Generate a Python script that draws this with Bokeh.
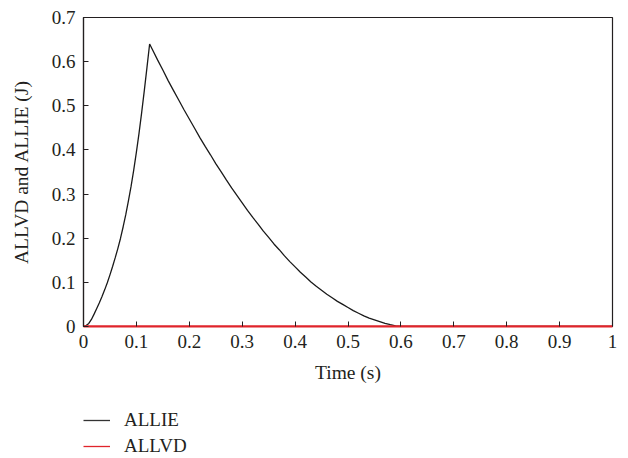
from bokeh.plotting import figure
from bokeh.layouts import column
from bokeh.models import Range1d, FixedTicker, Legend, LegendItem
from bokeh.embed import file_html
from bokeh.resources import INLINE

# ---- data ----
time_s = [0.0, 0.005, 0.01, 0.015, 0.02, 0.025, 0.03, 0.035, 0.04, 0.045, 0.05,
          0.055, 0.06, 0.065, 0.07, 0.075, 0.08, 0.085, 0.09, 0.095, 0.1, 0.105,
          0.11, 0.115, 0.12, 0.125,
          0.13, 0.14, 0.15, 0.16, 0.17, 0.18, 0.19, 0.2, 0.21, 0.22, 0.23, 0.24,
          0.25, 0.26, 0.27, 0.28, 0.29, 0.3, 0.31, 0.32, 0.33, 0.34, 0.35, 0.36,
          0.37, 0.38, 0.39, 0.4, 0.41, 0.42, 0.43, 0.44, 0.45, 0.46, 0.47, 0.48,
          0.49, 0.5, 0.51, 0.52, 0.53, 0.54, 0.55, 0.56, 0.57, 0.58, 0.59, 0.6,
          0.7, 0.8, 0.9, 1.0]
allie = [0.0, 0.002, 0.007, 0.016, 0.028, 0.041, 0.054, 0.068, 0.083, 0.099, 0.117,
         0.136, 0.156, 0.177, 0.2, 0.226, 0.254, 0.285, 0.318, 0.355, 0.395, 0.438,
         0.485, 0.535, 0.587, 0.64,
         0.628, 0.604, 0.581, 0.557, 0.535, 0.513, 0.491, 0.470, 0.449, 0.428,
         0.408, 0.389, 0.369, 0.351, 0.332, 0.314, 0.297, 0.280, 0.263, 0.247,
         0.232, 0.216, 0.202, 0.187, 0.174, 0.160, 0.147, 0.135, 0.123, 0.112,
         0.101, 0.091, 0.082, 0.073, 0.065, 0.057, 0.050, 0.043, 0.036, 0.030,
         0.024, 0.019, 0.015, 0.011, 0.007, 0.004, 0.0015, 0.0,
         0.0, 0.0, 0.0, 0.0]
allvd_t = [0.0, 1.0]
allvd = [0.0, 0.0]

x_ticks = [0, 0.1, 0.2, 0.3, 0.4, 0.5, 0.6, 0.7, 0.8, 0.9, 1.0]
x_tick_labels = ["0", "0.1", "0.2", "0.3", "0.4", "0.5", "0.6", "0.7", "0.8", "0.9", "1"]
y_ticks = [0, 0.1, 0.2, 0.3, 0.4, 0.5, 0.6, 0.7]
y_tick_labels = ["0", "0.1", "0.2", "0.3", "0.4", "0.5", "0.6", "0.7"]

FONT = "Liberation Serif"
TXT = "#231f20"
RED = "#e0242b"
BLACK = "#1a1a1a"

# ---- main chart ----
p = figure(frame_width=529, frame_height=309, output_backend="svg",
           toolbar_location=None, x_range=Range1d(0, 1), y_range=Range1d(0, 0.7),
           min_border_left=83, min_border_right=16, min_border_top=17,
           min_border_bottom=70)
p.background_fill_color = "white"
p.border_fill_color = "white"
p.outline_line_color = TXT
p.outline_line_width = 1.2
p.grid.visible = False

p.line(time_s, allie, line_color=BLACK, line_width=1.3)
p.line(allvd_t, allvd, line_color=RED, line_width=2)

for ax in (p.xaxis[0], p.yaxis[0]):
    ax.major_tick_in = 5
    ax.major_tick_out = 0
    ax.minor_tick_in = 0
    ax.minor_tick_out = 0
    ax.major_tick_line_color = TXT
    ax.axis_line_color = TXT
    ax.axis_line_width = 1.2
    ax.major_label_text_font = FONT
    ax.major_label_text_font_size = "19px"
    ax.major_label_text_color = TXT
    ax.axis_label_text_font = FONT
    ax.axis_label_text_font_size = "19.5px"
    ax.axis_label_text_font_style = "normal"
    ax.axis_label_text_color = TXT
    ax.major_label_standoff = 8

p.xaxis.ticker = FixedTicker(ticks=x_ticks)
p.yaxis.ticker = FixedTicker(ticks=y_ticks)
p.xaxis.major_label_overrides = dict(zip(x_ticks, x_tick_labels))
p.yaxis.major_label_overrides = dict(zip(y_ticks, y_tick_labels))
p.xaxis.axis_label = "Time (s)"
p.yaxis.axis_label = "ALLVD and ALLIE (J)"
p.xaxis.axis_label_standoff = 11
p.yaxis.axis_label_standoff = 17
p.xaxis.axis_line_color = RED
p.xaxis.axis_line_width = 2

# ---- legend strip below the chart ----
q = figure(frame_width=529, frame_height=48, output_backend="svg",
           toolbar_location=None, x_range=Range1d(0, 1), y_range=Range1d(0, 0.7),
           min_border_left=83, min_border_right=16, min_border_top=13,
           min_border_bottom=0)
q.axis.visible = False
q.grid.visible = False
q.outline_line_color = None
q.background_fill_color = "white"
q.border_fill_color = "white"
l1 = q.line(time_s, allie, line_color="#333333", line_width=1.3, visible=False)
l2 = q.line(allvd_t, allvd, line_color=RED, line_width=1.3, visible=False)

legend = Legend(items=[LegendItem(label="ALLIE", renderers=[l1]),
                       LegendItem(label="ALLVD", renderers=[l2])],
                location="top_left", padding=0, margin=0, spacing=4,
                glyph_width=27, glyph_height=20, label_standoff=14,
                label_text_font=FONT, label_text_font_size="19px",
                label_text_color=TXT, border_line_color=None,
                background_fill_alpha=0)
q.add_layout(legend, "center")

layout = column(p, q, spacing=0)
open("out.html", "w").write(file_html(layout, INLINE))
